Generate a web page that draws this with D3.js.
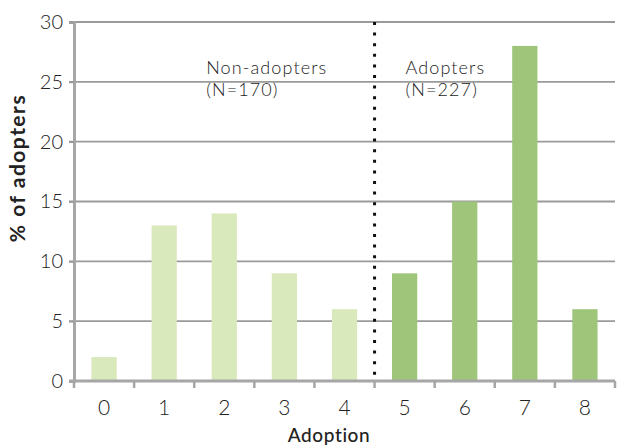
<!DOCTYPE html>
<html><head><meta charset="utf-8">
<script src="https://cdn.jsdelivr.net/npm/d3@7"></script>
<style>
html,body{margin:0;padding:0;background:#fff;}
svg{display:block;}
text{font-family:Lato,"Open Sans","DejaVu Sans",sans-serif;}
</style></head>
<body><svg id="c" width="617" height="446"></svg>
<script>
const categories = ["0","1","2","3","4","5","6","7","8"];
const values = [2,13,14,9,6,9,15,28,6];
const groups = ["non","non","non","non","non","adopt","adopt","adopt","adopt"];
const yTicks = [0,5,10,15,20,25,30];
const annotations = [
  {lines:["Non-adopters","(N=170)"], at:"2"},
  {lines:["Adopters","(N=227)"], at:"5"}
];
const colors = {non:"#d9e9bb", adopt:"#9ec57a"};

const svg = d3.select("#c");
const m = {l:74, r:2, t:22, b:65};
const W = 617, H = 446;
const x = d3.scaleBand().domain(categories).range([m.l, W - m.r]).paddingInner(0.58).paddingOuter(0.29);
const xb = d3.scaleBand().domain(categories).range([m.l, W - m.r]);
const y = d3.scaleLinear().domain([0,30]).range([H - m.b, m.t]);

// gridlines
svg.append("g").selectAll("line").data(yTicks.filter(d=>d>0)).join("line")
  .attr("x1", m.l - 5).attr("x2", W - m.r)
  .attr("y1", d=>y(d)).attr("y2", d=>y(d))
  .attr("stroke", "#9a9a9a").attr("stroke-width", 1.8);

// bars
svg.append("g").selectAll("rect").data(categories).join("rect")
  .attr("x", d=>x(d)).attr("width", x.bandwidth())
  .attr("y", (d,i)=>y(values[i])).attr("height", (d,i)=>y(0)-y(values[i]))
  .attr("fill", (d,i)=>colors[groups[i]]);

// divider
const divX = xb("5");
svg.append("line").attr("x1", divX).attr("x2", divX)
  .attr("y1", y(30)).attr("y2", y(0))
  .attr("stroke", "#111").attr("stroke-width", 3).attr("stroke-dasharray", "3,7.6");

// y axis
const ya = svg.append("g").attr("transform", `translate(${m.l},0)`)
  .call(d3.axisLeft(y).tickValues(yTicks).tickSize(5).tickPadding(6));
ya.select(".domain").attr("stroke", "#a6a6a6").attr("stroke-width", 3);
ya.selectAll(".tick line").attr("stroke", "#9a9a9a").attr("stroke-width", 1.8);
ya.selectAll(".tick text").attr("font-size", 20).attr("font-weight", 300).attr("fill", "#222")
  .style("font-family", "Lato,'Open Sans',sans-serif");

// x axis
const boundaries = categories.map(c=>xb(c)).concat([W - m.r]);
const xg = svg.append("g");
xg.append("line").attr("x1", m.l - 5).attr("x2", W - m.r).attr("y1", y(0)).attr("y2", y(0))
  .attr("stroke", "#a6a6a6").attr("stroke-width", 3);
xg.selectAll("line.t").data(boundaries).join("line").attr("class","t")
  .attr("x1", d=>d).attr("x2", d=>d).attr("y1", y(0)).attr("y2", y(0)+7)
  .attr("stroke", "#a6a6a6").attr("stroke-width", 2.5);
xg.selectAll("text").data(categories).join("text")
  .attr("x", d=>xb(d)+xb.bandwidth()/2).attr("y", y(0)+34)
  .attr("text-anchor","middle").attr("font-size", 21).attr("font-weight", 300).attr("fill","#222")
  .text(d=>d);

// axis titles
svg.append("text").attr("x", 329).attr("y", 442)
  .attr("text-anchor","middle").attr("font-size", 19).attr("font-weight", 500)
  .attr("letter-spacing", 0.6).attr("fill","#222")
  .text("Adoption");
svg.append("text").attr("transform", `translate(25,168) rotate(-90)`)
  .attr("text-anchor","middle").attr("font-size", 21).attr("font-weight", 700)
  .attr("letter-spacing", 1.5).attr("fill","#222")
  .text("% of adopters");

// annotations
annotations.forEach(a=>{
  const t = svg.append("text").attr("font-size", 18).attr("font-weight", 300)
    .attr("letter-spacing", 1.1).attr("fill","#222");
  const x0 = a.at === "2" ? xb("2") + 12 : xb("5") + 31;
  a.lines.forEach((l,i)=>{
    t.append("tspan").attr("x", x0).attr("y", 74 + i*22).text(l);
  });
});
</script></body></html>
